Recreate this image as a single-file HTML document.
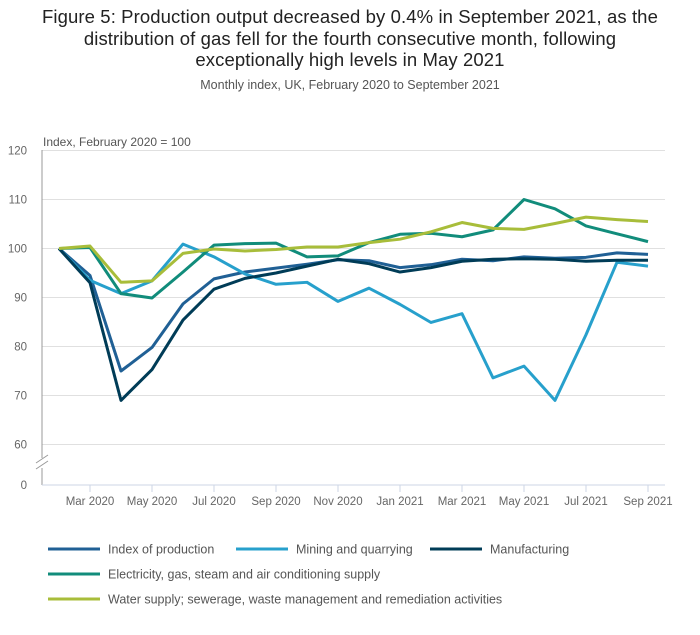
<!DOCTYPE html>
<html><head><meta charset="utf-8"><style>
body{margin:0;background:#fff;font-family:"Liberation Sans",sans-serif;}
#wrap{position:relative;width:700px;height:635px;overflow:hidden}
h1{position:absolute;top:6px;left:0;width:700px;margin:0;text-align:center;font-weight:normal;font-size:18.5px;line-height:21.5px;color:#222;letter-spacing:0.1px}
.sub{position:absolute;top:78px;left:0;width:700px;text-align:center;font-size:12.5px;color:#555}
svg text{font-family:"Liberation Sans",sans-serif;}
</style></head><body>
<div id="wrap">
<h1>Figure 5: Production output decreased by 0.4% in September 2021, as the<br>distribution of gas fell for the fourth consecutive month, following<br>exceptionally high levels in May 2021</h1>
<div class="sub">Monthly index, UK, February 2020 to September 2021</div>
<svg id="chart" width="700" height="635" style="position:absolute;left:0;top:0"></svg>
</div>
<script>
const months=["Feb 2020","Mar 2020","Apr 2020","May 2020","Jun 2020","Jul 2020","Aug 2020","Sep 2020","Oct 2020","Nov 2020","Dec 2020","Jan 2021","Feb 2021","Mar 2021","Apr 2021","May 2021","Jun 2021","Jul 2021","Aug 2021","Sep 2021"];
const yTicks=[60,70,80,90,100,110,120];
const seriesNames=["Index of production","Mining and quarrying","Manufacturing","Electricity, gas, steam and air conditioning supply","Water supply; sewerage, waste management and remediation activities"];
const seriesColors=["#206095","#27a0cc","#003c57","#118c7b","#a8bd3a"];
const iop=[100,94.5,75,79.8,88.7,93.8,95.2,96,96.8,97.7,97.5,96.1,96.7,97.8,97.5,98.3,98,98.2,99.1,98.8];
const mining=[100,93.5,90.8,93.4,100.9,98.3,94.8,92.7,93.1,89.2,91.9,88.6,84.9,86.7,73.6,76,69,82.4,97.2,96.4];
const manufacturing=[100,93,69,75.3,85.4,91.7,93.9,95,96.4,97.8,96.9,95.2,96.1,97.4,97.8,97.9,97.8,97.4,97.6,97.6];
const electricity=[100,100.2,90.8,89.9,95.2,100.7,101,101.1,98.3,98.5,101.2,102.9,103.1,102.4,103.8,110,108.1,104.6,103,101.4];
const water=[100,100.5,93.1,93.4,99,99.9,99.5,99.8,100.3,100.3,101.2,101.9,103.4,105.3,104.1,103.9,105.1,106.4,105.9,105.5];
const allSeries=[iop,mining,manufacturing,electricity,water];
const NS="http://www.w3.org/2000/svg";
const svg=document.getElementById('chart');
const x=i=>59+i*31;
const y=v=>248.5-(v-100)*4.9;
function el(t,a,p){const e=document.createElementNS(NS,t);for(const k in a)e.setAttribute(k,a[k]);(p||svg).appendChild(e);return e;}
yTicks.forEach(v=>{
 const g=el('line',{x1:42,x2:665,y1:y(v),y2:y(v),stroke:'#e0e0e0','stroke-width':1});
 
 
 const t=el('text',{x:27,y:y(v)+4,'text-anchor':'end','font-size':11.5,fill:'#666'});t.textContent=v;
 
 
});
const z=el('text',{x:27,y:489,'text-anchor':'end','font-size':11.5,fill:'#666'});z.textContent='0';


const ax=el('line',{x1:42,x2:42,y1:150,y2:485,stroke:'#999'});


el('rect',{x:36,y:458,width:12,height:10,fill:'#fff'});
const br=el('path',{d:'M36,463 L48,455 M36,469 L48,461',stroke:'#999',fill:'none'});


const xa=el('line',{x1:42,x2:665,y1:485,y2:485,stroke:'#ccd6e6'});


const yt=el('text',{x:43,y:146,'font-size':12,fill:'#555'});yt.textContent='Index, February 2020 = 100';


months.forEach((m,i)=>{
 if(i%2===1){
  el('line',{x1:x(i),x2:x(i),y1:485,y2:492,stroke:'#ccd6e6'});
  const t=el('text',{x:x(i),y:505,'text-anchor':'middle','font-size':11.5,fill:'#666'});t.textContent=m;
  
  
 }
});
allSeries.forEach((s,k)=>{
 const d=s.map((v,i)=>(i?'L':'M')+x(i)+','+y(v)).join(' ');
 const p=el('path',{d:d,fill:'none',stroke:seriesColors[k],'stroke-width':3,'stroke-linejoin':'round'});
 
 
});
const legPos=[[48,549],[236,549],[430,549],[48,574],[48,599]];
seriesNames.forEach((n,k)=>{
 const g=el('g',{});
 
 
 el('line',{x1:legPos[k][0],x2:legPos[k][0]+52,y1:legPos[k][1],y2:legPos[k][1],stroke:seriesColors[k],'stroke-width':3},g);
 const t=el('text',{x:legPos[k][0]+60,y:legPos[k][1]+4.5,'font-size':12.5,fill:'#555'},g);t.textContent=n;
});
</script>
</body></html>
